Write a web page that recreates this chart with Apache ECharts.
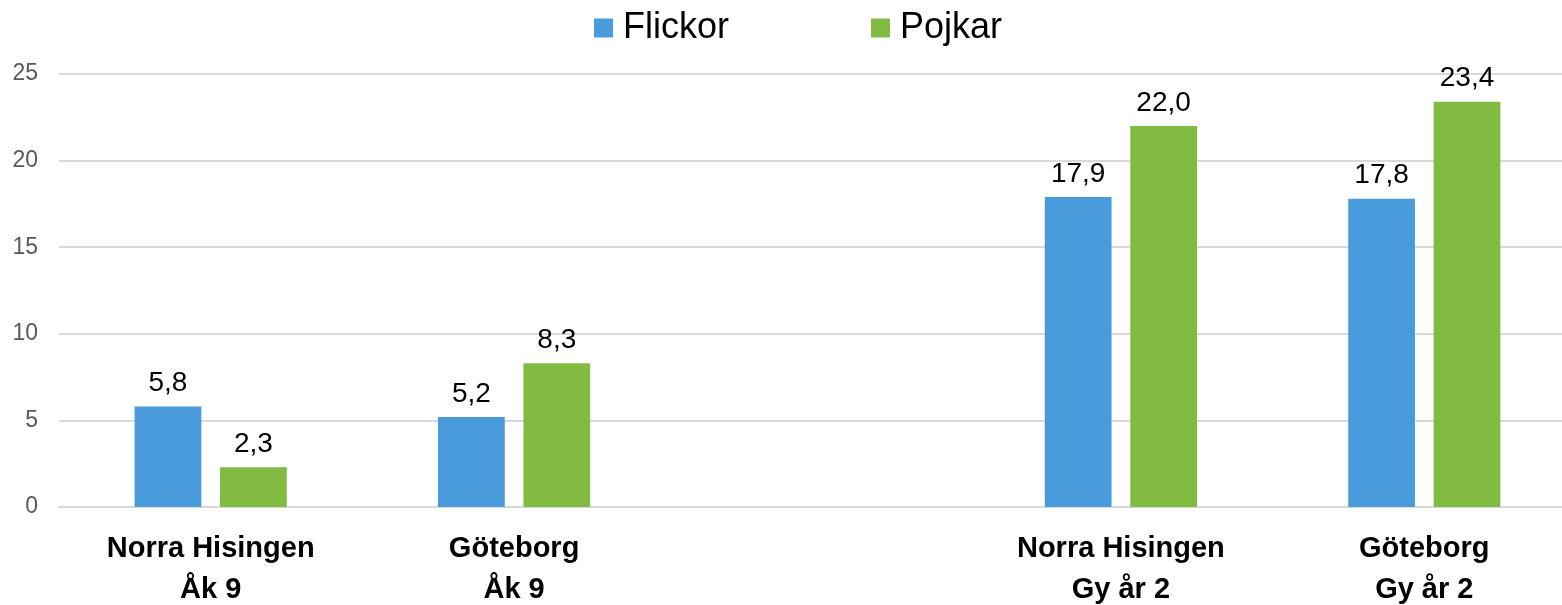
<!DOCTYPE html>
<html>
<head>
<meta charset="utf-8">
<script src="https://cdn.jsdelivr.net/npm/echarts@6/dist/echarts.min.js"></script>
<style>
  html, body { margin: 0; padding: 0; background: #fff; }
  #chart { width: 1562px; height: 605px; }
</style>
</head>
<body>
<div id="chart"></div>
<script>
// categories (empty slot in the middle separates Åk 9 from Gy år 2)
const categories = ['Norra Hisingen\nÅk 9', 'Göteborg\nÅk 9', '', 'Norra Hisingen\nGy år 2', 'Göteborg\nGy år 2']
const flickor = [5.8, 5.2, '-', 17.9, 17.8]
const pojkar = [2.3, 8.3, '-', 22.0, 23.4]
const yTicks = [0, 5, 10, 15, 20, 25]

const fmt = p => p.value.toFixed(1).replace('.', ',')
const font = 'Arial, "Liberation Sans", sans-serif'

const valueLabel = {
  show: true,
  position: 'top',
  distance: 9,
  color: '#000',
  fontSize: 28,
  fontFamily: font,
  formatter: fmt
}

const chart = echarts.init(document.getElementById('chart'))
chart.setOption({
  animation: false,
  legend: {
    top: 10,
    left: 594,
    padding: 0,
    itemWidth: 19,
    itemHeight: 19,
    itemGap: 142,
    icon: 'rect',
    textStyle: { fontSize: 36, fontFamily: font, color: '#000', padding: [0, 0, 0, 5] },
    data: ['Flickor', 'Pojkar']
  },
  grid: {
    left: 59,
    top: 74,
    width: 1517,
    bottom: 98,
    outerBoundsMode: 'none',
    containLabel: false
  },
  xAxis: {
    type: 'category',
    data: categories,
    axisLine: { show: true, lineStyle: { color: '#d9d9d9', width: 2 } },
    axisTick: { show: false },
    axisLabel: {
      interval: 0,
      margin: 21,
      color: '#000',
      fontSize: 29,
      fontWeight: 'bold',
      fontFamily: font,
      lineHeight: 41
    }
  },
  yAxis: {
    type: 'value',
    min: yTicks[0],
    max: yTicks[yTicks.length - 1],
    interval: 5,
    axisLine: { show: false },
    axisTick: { show: false },
    splitLine: { lineStyle: { color: '#d9d9d9', width: 2 } },
    axisLabel: {
      margin: 21,
      color: '#595959',
      fontSize: 23,
      fontFamily: font
    }
  },
  series: [
    {
      name: 'Flickor',
      type: 'bar',
      data: flickor,
      barWidth: '22%',
      barGap: '28%',
      itemStyle: { color: '#4a9bdc' },
      label: valueLabel
    },
    {
      name: 'Pojkar',
      type: 'bar',
      data: pojkar,
      barWidth: '22%',
      barGap: '28%',
      itemStyle: { color: '#82bb42' },
      label: valueLabel
    }
  ]
})
</script>
</body>
</html>
